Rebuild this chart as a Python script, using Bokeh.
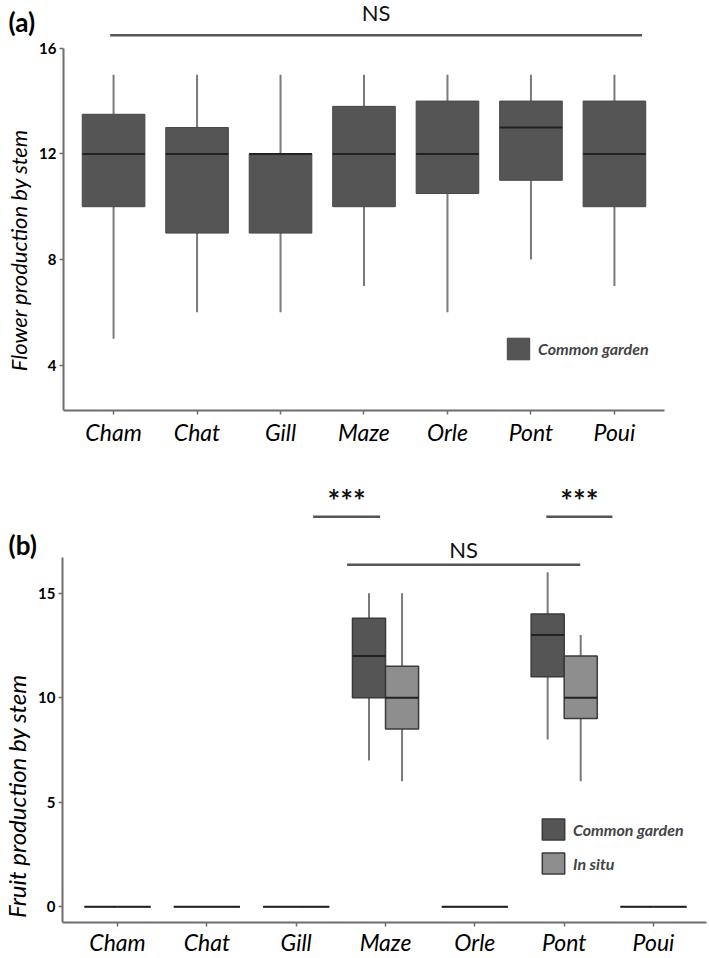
from bokeh.plotting import figure
from bokeh.models import (ColumnDataSource, Range1d, FixedTicker, Label, Legend, LegendItem)
from bokeh.transform import dodge
from bokeh.core.properties import value
from bokeh.embed import file_html
from bokeh.resources import INLINE

FONT = "Lato"
FONT_V = value(FONT)
NB = "\u00a0"

# ---------------- data ----------------
sites = ["Cham", "Chat", "Gill", "Maze", "Orle", "Pont", "Poui"]

# (a) flower production by stem, common garden
flower_low = [5, 6, 6, 7, 6, 8, 7]
flower_q1 = [10, 9, 9, 10, 10.5, 11, 10]
flower_med = [12, 12, 12, 12, 12, 13, 12]
flower_q3 = [13.5, 13, 12, 13.8, 14, 14, 14]
flower_high = [15, 15, 15, 15, 15, 15, 15]

# (b) fruit production by stem
cg_low = [0, 0, 0, 7, 0, 8, 0]
cg_q1 = [0, 0, 0, 10, 0, 11, 0]
cg_med = [0, 0, 0, 12, 0, 13, 0]
cg_q3 = [0, 0, 0, 13.8, 0, 14, 0]
cg_high = [0, 0, 0, 15, 0, 16, 0]

is_low = [0, 0, 0, 6, 0, 6, 0]
is_q1 = [0, 0, 0, 8.5, 0, 9, 0]
is_med = [0, 0, 0, 10, 0, 10, 0]
is_q3 = [0, 0, 0, 11.5, 0, 12, 0]
is_high = [0, 0, 0, 15, 0, 13, 0]

yticks_a = [4, 8, 12, 16]
yticks_b = [0, 5, 10, 15]

# category positions on the x scale (one unit per site)
xpos = [i + 1 for i in range(len(sites))]
xlabels = {x: s for x, s in zip(xpos, sites)}

AX = "#6e6e6e"
WHISK = "#7a7a7a"
MED = "#222222"
CG_FILL = "#555555"
IS_FILL = "#8e8e8e"


def style(p, yticks, ybounds, xbounds, ylabel, ylab_size):
    p.xgrid.visible = False
    p.ygrid.visible = False
    p.outline_line_color = None
    p.background_fill_color = "white"
    p.border_fill_color = "white"
    for ax in (p.xaxis[0], p.yaxis[0]):
        ax.axis_line_color = AX
        ax.axis_line_width = 2
        ax.major_tick_line_color = AX
        ax.major_tick_line_width = 1.5
        ax.major_tick_out = 4
        ax.major_tick_in = 0
        ax.minor_tick_line_color = None
        ax.major_label_text_color = "black"
        ax.major_label_text_font = FONT
    p.yaxis.ticker = FixedTicker(ticks=yticks)
    p.yaxis.bounds = ybounds
    p.yaxis.fixed_location = xbounds[0]
    p.yaxis.axis_label = ylabel
    p.yaxis.axis_label_text_font = FONT
    p.yaxis.axis_label_text_font_style = "italic"
    p.yaxis.axis_label_text_font_size = ylab_size
    p.yaxis.axis_label_text_color = "black"
    p.yaxis.axis_label_standoff = 4
    p.yaxis.major_label_standoff = 3
    p.yaxis.major_label_text_font_style = "bold"
    p.yaxis.major_label_text_font_size = "15px"
    p.xaxis.ticker = FixedTicker(ticks=xpos)
    p.xaxis.major_label_overrides = xlabels
    p.xaxis.bounds = xbounds
    p.xaxis.major_label_text_font_style = "italic"
    p.xaxis.major_label_text_font_size = "23px"
    p.xaxis.major_label_standoff = 3


def annot(p, start_cat, start_off, end_cat, end_off, y_line, y_text, text, size, style_):
    x0 = xpos[sites.index(start_cat)] + start_off
    x1 = xpos[sites.index(end_cat)] + end_off
    src = ColumnDataSource(dict(x0=[x0], x1=[x1], y=[y_line], xm=[(x0 + x1) / 2],
                                ty=[y_text], t=[text]))
    p.segment(x0="x0", y0="y", x1="x1", y1="y", source=src,
              line_color="#555555", line_width=2.5)
    p.text(x="xm", y="ty", text="t", source=src,
           text_align="center", text_baseline="middle", text_font=FONT_V,
           text_font_size=size, text_font_style=style_, text_color="#111111")


# ---------------- panel (a) ----------------
ya0, ya1 = 2.28, 17.81
xa_bounds = (0.4, 7.6)
pa = figure(width=709, height=458,
            x_range=Range1d(0.4 - 63 / 83.5, 7.6 + 45 / 83.5),
            y_range=Range1d(ya0, ya1), output_backend="svg", toolbar_location=None,
            min_border_left=0, min_border_right=0, min_border_top=0, min_border_bottom=48)
style(pa, yticks_a, (ya0, 16), xa_bounds, "Flower production by stem" + NB * 8, "22px")

src_a = ColumnDataSource(dict(x=xpos, low=flower_low, q1=flower_q1, med=flower_med,
                              q3=flower_q3, high=flower_high))
pa.segment(x0="x", y0="low", x1="x", y1="q1", source=src_a, line_color=WHISK, line_width=2)
pa.segment(x0="x", y0="q3", x1="x", y1="high", source=src_a, line_color=WHISK, line_width=2)
box_a = pa.vbar(x="x", bottom="q1", top="q3", width=0.75, source=src_a,
                fill_color=CG_FILL, line_color="#474747", line_width=1)
pa.segment(x0=dodge("x", -0.375), y0="med", x1=dodge("x", 0.375), y1="med",
           source=src_a, line_color=MED, line_width=2)

annot(pa, "Cham", -0.04, "Poui", 0.33, 16.49, 17.36, "NS", "22px", "normal")
pa.add_layout(Label(x=8, y=16.98, x_units="screen", y_units="data", text="(a)",
                    text_font=FONT, text_font_size="26px", text_font_style="bold",
                    text_baseline="middle", text_color="black"))

leg_a = Legend(items=[LegendItem(label="Common garden", renderers=[box_a])],
               location=(504, 48), padding=0, margin=0, glyph_width=28, glyph_height=27,
               label_text_font=FONT, label_text_font_size="16px",
               label_text_font_style="bold italic", label_standoff=6,
               background_fill_alpha=0, border_line_alpha=0)
pa.add_layout(leg_a)

# ---------------- panel (b) ----------------
yb0, yb1 = -0.75, 21.44
xb_bounds = (0.384, 7.593)
pb = figure(width=709, height=500,
            x_range=Range1d(0.384 - 62 / 89.33, 0.384 + 647 / 89.33),
            y_range=Range1d(yb0, yb1), output_backend="svg", toolbar_location=None,
            min_border_left=0, min_border_right=0, min_border_top=0, min_border_bottom=28)
style(pb, yticks_b, (yb0, 16.7), xb_bounds, "Fruit production by stem" + NB * 20, "24px")
pb.xaxis.major_label_standoff = 1

src_cg = ColumnDataSource(dict(x=xpos, low=cg_low, q1=cg_q1, med=cg_med, q3=cg_q3, high=cg_high))
src_is = ColumnDataSource(dict(x=xpos, low=is_low, q1=is_q1, med=is_med, q3=is_q3, high=is_high))

W = 0.37
renderers_b = []
for src, off, fill in ((src_cg, -W / 2, CG_FILL), (src_is, W / 2, IS_FILL)):
    xc = dodge("x", off)
    pb.segment(x0=xc, y0="low", x1=xc, y1="q1", source=src, line_color=WHISK, line_width=2)
    pb.segment(x0=xc, y0="q3", x1=xc, y1="high", source=src, line_color=WHISK, line_width=2)
    r = pb.vbar(x=xc, bottom="q1", top="q3", width=W, source=src,
                fill_color=fill, line_color="#3a3a3a", line_width=1.5)
    renderers_b.append(r)
    pb.segment(x0=dodge("x", off - W / 2), y0="med", x1=dodge("x", off + W / 2), y1="med",
               source=src, line_color=MED, line_width=2)

annot(pb, "Maze", -0.43, "Pont", 0.18, 16.36, 17.11, "NS", "22px", "normal")
annot(pb, "Maze", -0.81, "Maze", -0.06, 18.66, 19.46, "***", "30px", "bold")
annot(pb, "Pont", -0.20, "Pont", 0.54, 18.66, 19.46, "***", "30px", "bold")
pb.add_layout(Label(x=8, y=17.3, x_units="screen", y_units="data", text="(b)",
                    text_font=FONT, text_font_size="26px", text_font_style="bold",
                    text_baseline="middle", text_color="black"))

leg_b = Legend(items=[LegendItem(label="Common garden", renderers=[renderers_b[0]]),
                      LegendItem(label="In situ", renderers=[renderers_b[1]])],
               location=(539, 46), padding=0, margin=0, glyph_width=28, glyph_height=26,
               spacing=8, label_text_font=FONT, label_text_font_size="16px",
               label_text_font_style="bold italic", label_standoff=6,
               background_fill_alpha=0, border_line_alpha=0)
pb.add_layout(leg_b)

open("out.html", "w").write(file_html([pa, pb], INLINE))
